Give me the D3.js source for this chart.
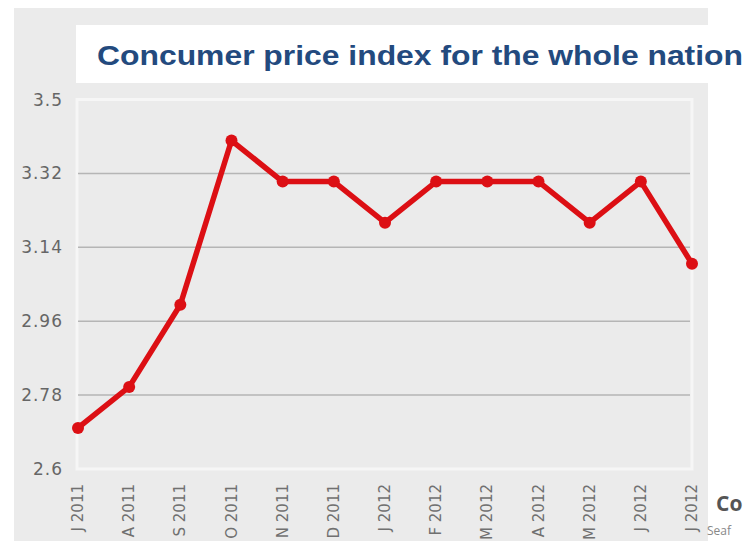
<!DOCTYPE html>
<html>
<head>
<meta charset="utf-8">
<script src="https://cdn.jsdelivr.net/npm/d3@7"></script>
<style>
  body { margin: 0; background: #fff; overflow: hidden; }
  svg { display: block; }
</style>
</head>
<body>
<svg width="750" height="541"></svg>
<script>
// months as printed on the axis
var months = ["J 2011", "A 2011", "S 2011", "O 2011", "N 2011", "D 2011",
              "J 2012", "F 2012", "M 2012", "A 2012", "M 2012", "J 2012", "J 2012"];
var cpi = [2.70, 2.80, 3.00, 3.40, 3.30, 3.30, 3.20, 3.30, 3.30, 3.30, 3.20, 3.30, 3.10];
var yTicks = [2.6, 2.78, 2.96, 3.14, 3.32, 3.5];
var title = "Concumer price index for the whole nation";

var svg = d3.select("svg");

// gray panel + white title box
svg.append("rect").attr("x", 14).attr("y", 8).attr("width", 694).attr("height", 541)
  .style("fill", "#ebebeb");
svg.append("rect").attr("x", 76).attr("y", 25).attr("width", 674).attr("height", 58)
  .style("fill", "#fff");
svg.append("text")
  .attr("x", 97).attr("y", 65)
  .attr("textLength", 646).attr("lengthAdjust", "spacingAndGlyphs")
  .style("font-family", "'Liberation Sans', Arial, sans-serif")
  .style("font-weight", "bold")
  .style("font-size", "28px")
  .style("fill", "#234a7e")
  .text(title);

var x = d3.scalePoint().domain(d3.range(months.length)).range([78, 692]);
var y = d3.scaleLinear().domain([2.6, 3.5]).range([469, 99.5]);

var g = svg.append("g");

// plot frame
g.append("rect").attr("x", 77).attr("y", y(3.5)).attr("width", 615).attr("height", y(2.6) - y(3.5))
  .style("fill", "none").style("stroke", "#f6f6f6").style("stroke-width", 3);

// grid
g.selectAll("line.grid").data(yTicks.slice(1, -1)).enter().append("line")
  .attr("class", "grid")
  .attr("x1", 78).attr("x2", 690)
  .attr("y1", function(d) { return y(d); }).attr("y2", function(d) { return y(d); })
  .style("stroke", "#b5b5b5").style("stroke-width", 1.5);

// y labels
g.selectAll("text.ylab").data(yTicks).enter().append("text")
  .attr("class", "ylab")
  .attr("x", 63).attr("y", function(d) { return y(d) + 6; })
  .style("text-anchor", "end")
  .style("font-family", "'DejaVu Sans', Verdana, sans-serif")
  .style("font-size", "17px")
  .style("letter-spacing", "1px")
  .style("fill", "#666")
  .text(function(d) { return d; });

// x labels, rotated
g.selectAll("text.xlab").data(months).enter().append("text")
  .attr("class", "xlab")
  .attr("transform", function(d, i) { return "translate(" + (x(i) + 5) + ",484) rotate(-90)"; })
  .style("text-anchor", "end")
  .style("font-family", "'DejaVu Sans', Verdana, sans-serif")
  .style("font-size", "15px")
  .style("fill", "#707070")
  .text(function(d) { return d; });

// line + dots
var line = d3.line()
  .x(function(d, i) { return x(i); })
  .y(function(d) { return y(d); });

g.append("path").datum(cpi)
  .attr("d", line)
  .style("fill", "none")
  .style("stroke", "#dc0f14")
  .style("stroke-width", 5.5)
  .style("stroke-linejoin", "round");

g.selectAll("circle").data(cpi).enter().append("circle")
  .attr("cx", function(d, i) { return x(i); })
  .attr("cy", function(d) { return y(d); })
  .attr("r", 6)
  .style("fill", "#dc0f14");

// bits of the neighbouring page content
svg.append("text").attr("x", 716).attr("y", 511)
  .style("font-family", "'Open Sans', sans-serif").style("font-weight", "bold")
  .style("font-size", "21px").style("fill", "#555").text("Co");
svg.append("text").attr("x", 707).attr("y", 535)
  .style("font-family", "'Open Sans', sans-serif")
  .style("font-size", "12px").style("fill", "#888").text("Seaf");
</script>
</body>
</html>
